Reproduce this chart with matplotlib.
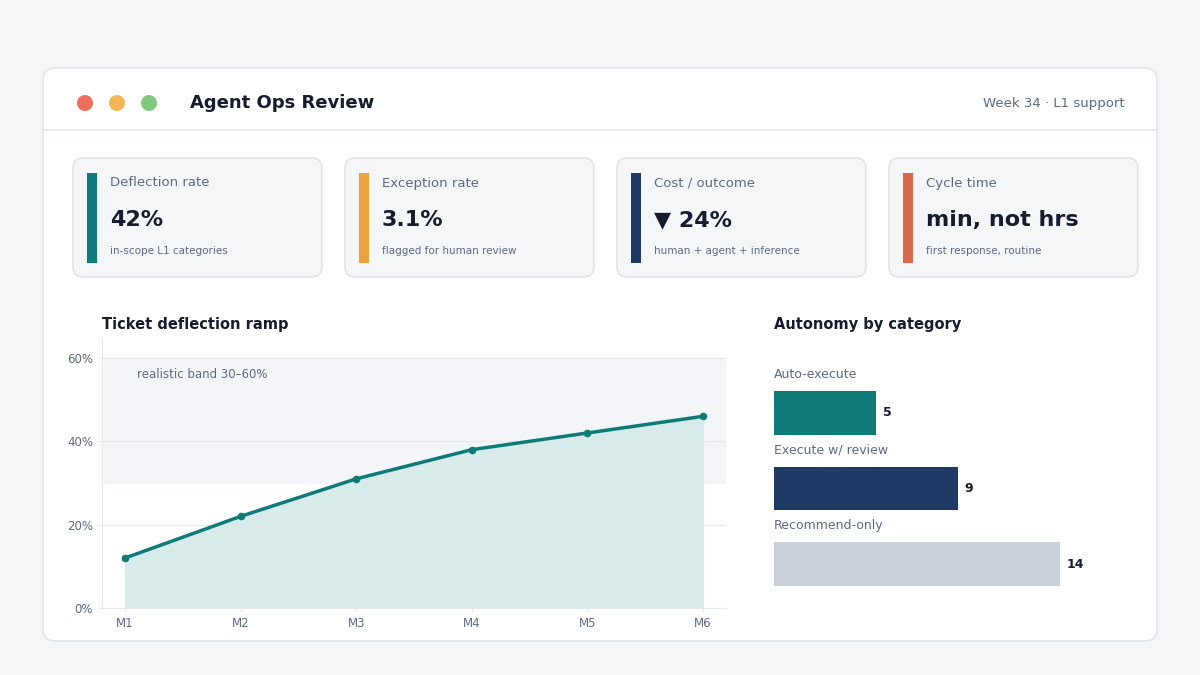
import matplotlib.pyplot as plt
from matplotlib.patches import FancyBboxPatch, Rectangle, Ellipse
from matplotlib.ticker import FuncFormatter

months = ["M1", "M2", "M3", "M4", "M5", "M6"]
deflection = [12, 22, 31, 38, 42, 46]
band = (30, 60)

categories = ["Auto-execute", "Execute w/ review", "Recommend-only"]
cat_counts = [5, 9, 14]
cat_colors = ["#0f7b78", "#1f3864", "#c8d0dc"]

kpi_labels = ["Deflection rate", "Exception rate", "Cost / outcome", "Cycle time"]
kpi_values = ["42%", "3.1%", "\u25bc 24%", "min, not hrs"]
kpi_subs = ["in-scope L1 categories", "flagged for human review",
            "human + agent + inference", "first response, routine"]
kpi_colors = ["#0f7b78", "#eba23c", "#1f3864", "#d9674a"]

W, H = 1200, 675
DARK = "#141c2e"
MUTED = "#5a6a85"

fig = plt.figure(figsize=(12, 6.75), dpi=100)
fig.patch.set_facecolor("#f5f6f8")

def fx(x):
    return x / W

def fy(y):
    return 1 - y / H

def box(x0, y0, x1, y1, fc, ec, r=10, lw=1.2):
    p = FancyBboxPatch((fx(x0), fy(y1)), fx(x1 - x0), (y1 - y0) / H,
                       boxstyle="round,pad=0,rounding_size=%f" % (r / W),
                       transform=fig.transFigure, fc=fc, ec=ec, lw=lw,
                       mutation_aspect=W / H, zorder=-5)
    fig.patches.append(p)

# main card
box(43, 68, 1157, 641, "white", "#e1e5ec", r=12)
fig.add_artist(plt.Line2D([fx(44), fx(1156)], [fy(130), fy(130)],
                          color="#e1e5ec", lw=1.2, transform=fig.transFigure))
for cx, c in zip([85, 117, 149], ["#ec6f5c", "#f3b654", "#7fc97f"]):
    fig.patches.append(Ellipse((fx(cx), fy(103)), 16 / W, 16 / H,
                               transform=fig.transFigure, fc=c, ec="none"))
fig.text(fx(190), fy(103), "Agent Ops Review", fontsize=13, fontweight="bold",
         color=DARK, va="center")
fig.text(fx(1125), fy(103), "Week 34 \u00b7 L1 support", fontsize=9.5,
         color=MUTED, va="center", ha="right")

# KPI cards
for i in range(4):
    x0 = 73 + 272 * i
    box(x0, 158, x0 + 249, 277, "#f5f6f8", "#e1e5ec", r=10)
    fig.patches.append(Rectangle((fx(x0 + 14), fy(263)), fx(10), 90 / H,
                                 transform=fig.transFigure, fc=kpi_colors[i], ec="none"))
    fig.text(fx(x0 + 37), fy(183), kpi_labels[i], fontsize=9.5, color=MUTED, va="center")
    fig.text(fx(x0 + 37), fy(220), kpi_values[i], fontsize=16, fontweight="bold",
             color=DARK, va="center")
    fig.text(fx(x0 + 37), fy(251), kpi_subs[i], fontsize=7.5, color=MUTED, va="center")

# line chart
ax = fig.add_axes([fx(102), fy(608), fx(624), 270 / H], zorder=2)
ax.patch.set_alpha(0)
x = list(range(len(months)))
ax.axhspan(band[0], band[1], color="#f3f5f8", zorder=0)
ax.fill_between(x, deflection, color="#d7ebea", zorder=1)
ax.plot(x, deflection, color="#0f7b78", lw=2.5, marker="o", ms=4.5, zorder=3)
ax.set_xlim(-0.2, 5.2)
ax.set_ylim(0, 64.8)
ax.set_yticks([0, 20, 40, 60])
ax.yaxis.set_major_formatter(FuncFormatter(lambda v, p: "%d%%" % v))
ax.set_xticks(x)
ax.set_xticklabels(months)
ax.grid(axis="y", color="#e6e9ef", lw=0.8, zorder=0)
ax.set_axisbelow(True)
for s in ["top", "right"]:
    ax.spines[s].set_visible(False)
for s in ["left", "bottom"]:
    ax.spines[s].set_color("#e6e9ef")
ax.tick_params(colors=MUTED, labelsize=8.5, length=3)
ax.tick_params(axis="both", color="#e6e9ef")
ax.text(0.1, 56, "realistic band 30\u201360%", fontsize=8.5, color=MUTED, va="center")
fig.text(fx(102), fy(324), "Ticket deflection ramp", fontsize=10.5,
         fontweight="bold", color=DARK, va="center")

# autonomy bars
bx = fig.add_axes([fx(774), fy(602), fx(366), 227 / H], zorder=2)
yi = list(range(len(categories)))
bx.barh(yi, cat_counts, height=0.57, color=cat_colors)
bx.set_xlim(0, 366 / 20.4)
bx.set_ylim(2.503, -0.503)
bx.axis("off")
for i, (c, n) in enumerate(zip(categories, cat_counts)):
    bx.text(0, i - 0.51, c, fontsize=9, color=MUTED, va="center", clip_on=False)
    bx.text(n + 0.35, i, str(n), fontsize=9, fontweight="bold", color=DARK, va="center")
fig.text(fx(774), fy(324), "Autonomy by category", fontsize=10.5,
         fontweight="bold", color=DARK, va="center")

fig.savefig("out.png", dpi=100, facecolor=fig.get_facecolor())
